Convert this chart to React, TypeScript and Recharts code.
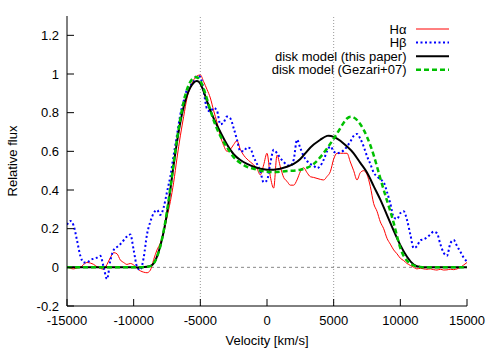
import React from 'react';
import { ComposedChart, Line, XAxis, YAxis, ReferenceLine, Legend } from 'recharts';

// velocity grid (km/s), 250 km/s sampling
const velocities: number[] = [];
for (let v = -15000; v <= 15000; v += 250) velocities.push(v);

const halpha = [
  0.005, -0.005, -0.008, -0.003,
  0.0, 0.015, 0.025, 0.022,
  0.015, 0.003, -0.005, -0.01,
  0.015, 0.05, 0.076, 0.07,
  0.038, 0.025, 0.015, 0.02,
  0.012, -0.005, -0.018, -0.025,
  -0.028, -0.015, 0.04, 0.09,
  0.125, 0.18, 0.26, 0.34,
  0.44, 0.565, 0.68, 0.78,
  0.876, 0.93, 0.97, 0.99,
  0.995, 0.96, 0.92, 0.876,
  0.81, 0.75, 0.68, 0.63,
  0.6, 0.61, 0.635, 0.655,
  0.61, 0.58, 0.56, 0.545,
  0.53, 0.51, 0.478, 0.53,
  0.59, 0.47, 0.41, 0.58,
  0.52, 0.465, 0.445, 0.425,
  0.425, 0.452, 0.495, 0.515,
  0.49, 0.469, 0.465, 0.46,
  0.455, 0.452, 0.47, 0.495,
  0.56, 0.59, 0.59, 0.59,
  0.59, 0.545, 0.5, 0.452,
  0.49, 0.5, 0.48, 0.418,
  0.33, 0.29, 0.235, 0.2,
  0.15, 0.12, 0.09, 0.07,
  0.047, 0.035, 0.02, 0.01,
  0.0, -0.008, -0.005, -0.008,
  -0.01, -0.008, -0.012, -0.014,
  -0.01, -0.014, -0.013, -0.01,
  -0.012, -0.008, 0.0, 0.012,
  0.025,
];

const hbeta = [
  0.22, 0.24, 0.215, 0.14,
  0.06, 0.025, 0.025, 0.038,
  0.045, 0.05, 0.06, 0.0,
  -0.06, 0.035, 0.09, 0.105,
  0.12, 0.14, 0.16, 0.17,
  0.09, 0.003, -0.014, 0.05,
  0.17, 0.236, 0.28, 0.297,
  0.271, 0.31, 0.39, 0.47,
  0.58, 0.685, 0.79, 0.86,
  0.92, 0.94, 0.96, 0.99,
  0.985, 0.91, 0.82, 0.806,
  0.825, 0.81, 0.74, 0.75,
  0.78, 0.77, 0.72, 0.66,
  0.6, 0.6, 0.62, 0.615,
  0.57, 0.535, 0.495, 0.44,
  0.45, 0.539, 0.608, 0.59,
  0.565, 0.545, 0.53, 0.525,
  0.556, 0.66, 0.617, 0.575,
  0.55, 0.535, 0.525, 0.513,
  0.525, 0.556, 0.6, 0.625,
  0.6, 0.59, 0.595, 0.605,
  0.625, 0.65, 0.68, 0.69,
  0.665, 0.625, 0.575, 0.535,
  0.49, 0.47, 0.455, 0.44,
  0.39, 0.33, 0.26, 0.25,
  0.28, 0.29, 0.245, 0.17,
  0.1, 0.11, 0.14, 0.145,
  0.155, 0.17, 0.185, 0.176,
  0.12, 0.075, 0.06, 0.124,
  0.141, 0.11, 0.081, 0.05,
  0.03,
];

// disk models sampled every 500 km/s from -15000 to 15000
const diskThisPaper = [
  0, 0, 0, 0, 0, 0, 0, 0, 0, 0, 0, 0,
  0.003, 0.02, 0.11, 0.28, 0.53, 0.75, 0.89, 0.955, 0.95, 0.86,
  0.77, 0.7, 0.635, 0.585, 0.555, 0.535, 0.52, 0.51, 0.505, 0.505,
  0.51, 0.52, 0.535, 0.56, 0.6, 0.635, 0.66, 0.68, 0.675, 0.655,
  0.625, 0.59, 0.54, 0.49, 0.42, 0.35, 0.27, 0.19, 0.115, 0.055,
  0.015, 0.002,
  0, 0, 0, 0, 0, 0, 0,
];

const diskGezari = [
  0, 0, 0, 0, 0, 0, 0, 0, 0, 0, 0, 0,
  0.003, 0.02, 0.11, 0.29, 0.54, 0.77, 0.92, 0.98, 0.965, 0.87,
  0.76, 0.68, 0.62, 0.57, 0.54, 0.52, 0.51, 0.5, 0.495, 0.493,
  0.495, 0.498, 0.5, 0.505, 0.515, 0.535, 0.57, 0.615, 0.665, 0.72,
  0.77, 0.775, 0.74, 0.675, 0.58, 0.46, 0.345, 0.23, 0.1, 0.035,
  0.01, 0.002,
  0, 0, 0, 0, 0, 0, 0,
];

const xTicks = [-15000, -10000, -5000, 0, 5000, 10000, 15000];
const xTopTicks = [-10000, -5000, 0, 5000, 10000];
const yTicks = [-0.2, 0, 0.2, 0.4, 0.6, 0.8, 1, 1.2];

const seriesInfo = [
  { key: 'ha', label: 'H\u03b1', color: '#ff0000', width: 1, dash: undefined as string | undefined, curve: 'monotone' as const },
  { key: 'hb', label: 'H\u03b2', color: '#0000ff', width: 2, dash: '2 2.5', curve: 'monotone' as const },
  { key: 'dm', label: 'disk model (this paper)', color: '#000000', width: 2, dash: undefined, curve: 'natural' as const },
  { key: 'gz', label: 'disk model (Gezari+07)', color: '#00c000', width: 2.5, dash: '5 3', curve: 'natural' as const },
];

const data = velocities.map((v, i) => ({
  v,
  ha: halpha[i],
  hb: hbeta[i],
  dm: i % 2 === 0 ? diskThisPaper[i / 2] : null,
  gz: i % 2 === 0 ? diskGezari[i / 2] : null,
}));

const FONT = '"Liberation Sans", Arial, Helvetica, sans-serif';

const fmtY = (t: number) => {
  if (t === 0) return '0';
  if (t === 1) return '1';
  return String(Math.round(t * 10) / 10);
};

const renderLegend = () => (
  <svg width={470} height={80} style={{ display: 'block' }}>
    {seriesInfo.map((s, i) => {
      const cy = 29 + i * 13.6;
      return (
        <g key={s.key}>
          <text x={406.5} y={cy + 4.6} textAnchor="end" fontSize={13} fontFamily={FONT} fill="#000">
            {s.label}
          </text>
          <line x1={416} y1={cy} x2={449} y2={cy} stroke={s.color} strokeWidth={s.width} strokeDasharray={s.dash} />
        </g>
      );
    })}
  </svg>
);

const YLabel = (props: any) => {
  const vb = props.viewBox || { x: 0, y: 16, width: 67, height: 290 };
  const cy = vb.y + vb.height / 2;
  const x = 16.6;
  return (
    <text x={x} y={cy} transform={`rotate(-90 ${x} ${cy})`} textAnchor="middle" fontSize={13} fontFamily={FONT} fill="#000">
      Relative flux
    </text>
  );
};

const XLabel = (props: any) => {
  const vb = props.viewBox || { x: 67, y: 306, width: 400, height: 44 };
  const cx = vb.x + vb.width / 2;
  return (
    <text x={cx} y={345} textAnchor="middle" fontSize={13} fontFamily={FONT} fill="#000">
      Velocity [km/s]
    </text>
  );
};

export default function App() {
  const tickStyle = { fill: '#000', fontSize: 13, fontFamily: FONT };
  return (
    <div style={{ position: 'absolute', left: 0, top: 0, width: 491, height: 350, background: '#fff' }}>
      <ComposedChart width={491} height={350} data={data} margin={{ top: 16, right: 24, bottom: 0, left: 0 }}>
        <XAxis
          xAxisId="bottom"
          dataKey="v"
          type="number"
          domain={[-15000, 15000]}
          ticks={xTicks}
          allowDataOverflow
          height={44}
          tickSize={-7}
          tickMargin={16.5}
          tick={tickStyle}
          axisLine={{ stroke: '#000' }}
          tickLine={{ stroke: '#000' }}
          interval={0}
          label={<XLabel />}
        />
        <XAxis
          xAxisId="top"
          orientation="top"
          dataKey="v"
          type="number"
          domain={[-15000, 15000]}
          ticks={xTopTicks}
          allowDataOverflow
          height={0}
          tickSize={-7}
          tick={false}
          axisLine={{ stroke: '#000' }}
          tickLine={{ stroke: '#000' }}
          interval={0}
        />
        <YAxis
          yAxisId="left"
          type="number"
          domain={[-0.2, 1.3]}
          ticks={yTicks}
          allowDataOverflow
          width={67}
          tickSize={-7}
          tickMargin={15}
          tick={tickStyle}
          tickFormatter={fmtY}
          axisLine={{ stroke: '#000' }}
          tickLine={{ stroke: '#000' }}
          interval={0}
          label={<YLabel />}
        />
        <YAxis
          yAxisId="right"
          orientation="right"
          type="number"
          domain={[-0.2, 1.3]}
          ticks={yTicks}
          allowDataOverflow
          width={0}
          tickSize={-7}
          tick={false}
          axisLine={{ stroke: '#000' }}
          tickLine={{ stroke: '#000' }}
          interval={0}
        />
        <ReferenceLine xAxisId="bottom" yAxisId="left" x={-5000} stroke="#999" strokeDasharray="1 2" />
        <ReferenceLine xAxisId="bottom" yAxisId="left" x={5000} stroke="#999" strokeDasharray="1 2" />
        <ReferenceLine xAxisId="bottom" yAxisId="left" y={0} stroke="#888" strokeDasharray="3 3" />
        {seriesInfo.map((s) => (
          <Line
            key={s.key}
            xAxisId="bottom"
            yAxisId="left"
            dataKey={s.key}
            name={s.label}
            type={s.curve}
            stroke={s.color}
            strokeWidth={s.width}
            strokeDasharray={s.dash}
            dot={false}
            activeDot={false}
            connectNulls
            isAnimationActive={false}
          />
        ))}
        <Legend
          layout="vertical"
          align="center"
          verticalAlign="middle"
          wrapperStyle={{ position: 'absolute', left: 0, top: 0, width: 470, height: 80 }}
          content={renderLegend}
        />
      </ComposedChart>
    </div>
  );
}
